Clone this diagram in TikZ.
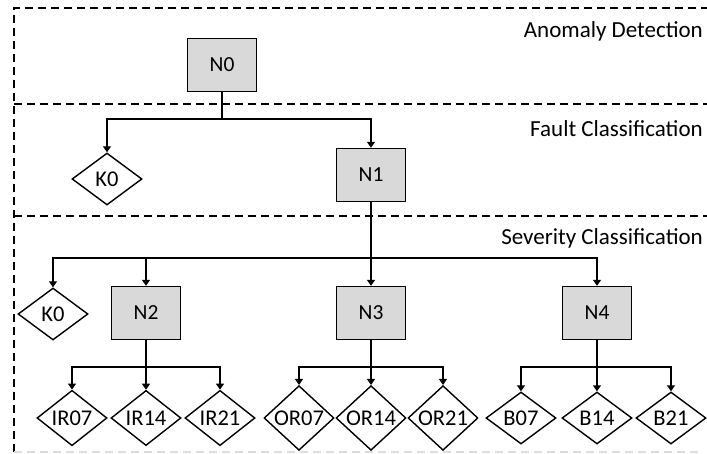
\documentclass[tikz,border=0pt]{standalone}
\usepackage{fontspec}
\setmainfont{Carlito}
\usetikzlibrary{shapes.geometric,arrows.meta}

\tikzset{
  procbox/.style={draw, line width=1.4pt, fill=boxgray, minimum width=69pt,
    minimum height=53pt, inner sep=0pt, font=\fontsize{21.5}{24}\selectfont},
  leaf/.style={draw, line width=1.4pt, diamond, minimum width=70pt,
    minimum height=52pt, inner sep=0pt, font=\fontsize{22.5}{24}\selectfont},
  link/.style={line width=1.4pt, -{Triangle[width=8pt,length=6pt]}},
  stem/.style={line width=1.4pt},
  bandline/.style={line width=1.5pt, dash pattern=on 8pt off 5pt},
  bandlabel/.style={anchor=base east, inner sep=0pt, font=\fontsize{23}{26}\selectfont}
}
\definecolor{boxgray}{HTML}{D9D9D9}
\definecolor{faintline}{HTML}{DDDDDD}

\begin{document}
\begin{tikzpicture}[x=1pt, y=-1pt]
  \useasboundingbox (0,0) rectangle (707,454);

  % stage bands
  \draw[bandline] (14,452) -- (14,8) -- (707,8);
  \draw[bandline] (14,104) -- (707,104);
  \draw[bandline] (14,216) -- (707,216);
  \draw[bandline, draw=faintline] (14,452) -- (702,452);

  \node[bandlabel] (lab1) at (703,38) {Anomaly Detection};
  \node[bandlabel] (lab2) at (703,137) {Fault Classification};
  \node[bandlabel] (lab3) at (703,245) {Severity Classification};

  % classifier nodes
  \node[procbox] (N0) at (222,65) {N0};
  \node[procbox] (N1) at (371,175) {N1};
  \node[procbox] (N2) at (146,313) {N2};
  \node[procbox] (N3) at (371,313) {N3};
  \node[procbox] (N4) at (597,313) {N4};

  % leaf decisions
  \node[leaf] (K0a) at (107,179) {K0};
  \node[leaf] (K0b) at (53,314) {K0};
  \node[leaf] (IR07) at (72,418) {IR07};
  \node[leaf] (IR14) at (146,418) {IR14};
  \node[leaf] (IR21) at (220,418) {IR21};
  \node[leaf] (OR07) at (299,418) {OR07};
  \node[leaf] (OR14) at (371,418) {OR14};
  \node[leaf] (OR21) at (443,418) {OR21};
  \node[leaf] (B07) at (521,418) {B07};
  \node[leaf] (B14) at (597,418) {B14};
  \node[leaf] (B21) at (671,418) {B21};

  % N0 branches
  \coordinate (j0) at (222,119);
  \draw[stem] (N0.south) -- (j0);
  \draw[link] (j0) -| (K0a.north);
  \draw[link] (j0) -| (N1.north);

  % N1 branches
  \coordinate (j1) at (371,258);
  \draw[stem] (N1.south) -- (j1);
  \draw[link] (j1) -| (K0b.north);
  \draw[link] (j1) -| (N2.north);
  \draw[link] (j1) -- (N3.north);
  \draw[link] (j1) -| (N4.north);

  % N2 branches
  \coordinate (j2) at (146,367);
  \draw[stem] (N2.south) -- (j2);
  \draw[link] (j2) -| (IR07.north);
  \draw[link] (j2) -- (IR14.north);
  \draw[link] (j2) -| (IR21.north);

  % N3 branches
  \coordinate (j3) at (371,367);
  \draw[stem] (N3.south) -- (j3);
  \draw[link] (j3) -| (OR07.north);
  \draw[link] (j3) -- (OR14.north);
  \draw[link] (j3) -| (OR21.north);

  % N4 branches
  \coordinate (j4) at (597,367);
  \draw[stem] (N4.south) -- (j4);
  \draw[link] (j4) -| (B07.north);
  \draw[link] (j4) -- (B14.north);
  \draw[link] (j4) -| (B21.north);
\end{tikzpicture}
\end{document}
